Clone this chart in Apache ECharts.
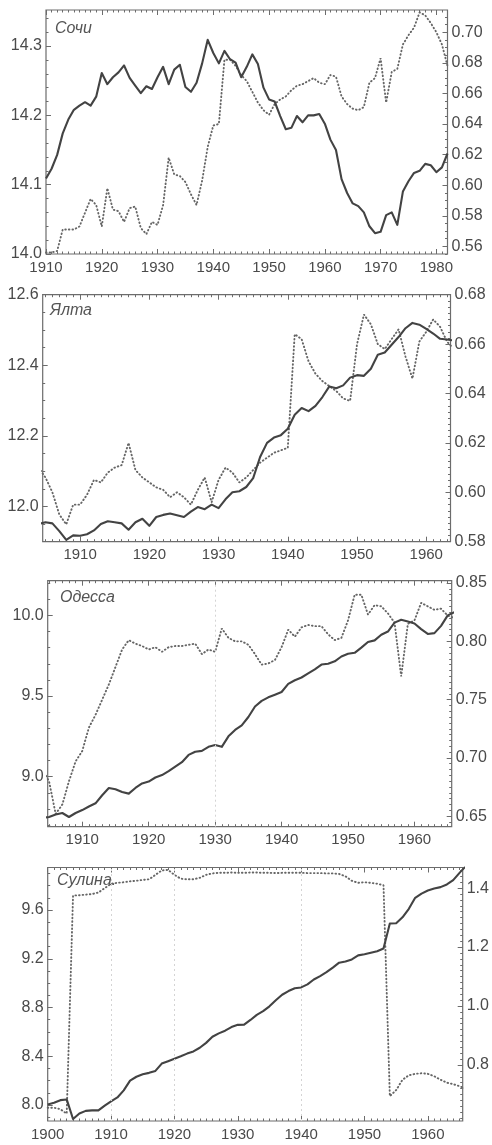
<!DOCTYPE html>
<html>
<head>
<meta charset="utf-8">
<script src="https://cdn.jsdelivr.net/npm/echarts@6/dist/echarts.min.js"></script>
<style>
  html, body { margin: 0; padding: 0; background: #ffffff; }
  #chart { width: 492px; height: 1145px; }
</style>
</head>
<body>
<div id="chart"></div>
<script>
// ---- Сочи, 1910–1982 ----
const sochiStart = 1910;
const sochiMean = [
  14.109, 14.123, 14.143, 14.174, 14.194, 14.208, 14.214, 14.219, 14.214, 14.227,
  14.261, 14.245, 14.255, 14.262, 14.272, 14.254, 14.243, 14.232, 14.242, 14.238,
  14.255, 14.270, 14.245, 14.266, 14.273, 14.241, 14.234, 14.247, 14.275, 14.309,
  14.290, 14.275, 14.293, 14.281, 14.276, 14.255, 14.270, 14.288, 14.274, 14.240,
  14.223, 14.220, 14.199, 14.180, 14.182, 14.199, 14.190, 14.200, 14.200, 14.202,
  14.188, 14.165, 14.150, 14.108, 14.088, 14.073, 14.069, 14.060, 14.040, 14.030,
  14.032, 14.056, 14.060, 14.042, 14.090, 14.105, 14.117, 14.120, 14.130, 14.128,
  14.118, 14.125, 14.145
];
const sochiIndex = [
  0.556, 0.556, 0.557, 0.571, 0.571, 0.571, 0.573, 0.582, 0.591, 0.587,
  0.573, 0.598, 0.584, 0.583, 0.576, 0.585, 0.586, 0.572, 0.568, 0.576,
  0.574, 0.587, 0.618, 0.607, 0.606, 0.602, 0.594, 0.587, 0.603, 0.625,
  0.639, 0.640, 0.682, 0.682, 0.678, 0.672, 0.668, 0.661, 0.654, 0.649,
  0.646, 0.653, 0.656, 0.658, 0.662, 0.665, 0.666, 0.668, 0.670, 0.667,
  0.666, 0.672, 0.671, 0.658, 0.653, 0.650, 0.649, 0.651, 0.667, 0.670,
  0.683, 0.654, 0.674, 0.676, 0.692, 0.698, 0.703, 0.713, 0.711, 0.706,
  0.700, 0.692, 0.678
];
const sochiYearTicks = [1910, 1920, 1930, 1940, 1950, 1960, 1970, 1980];
const sochiMeanTicks = [14.0, 14.1, 14.2, 14.3];
const sochiIndexTicks = [0.56, 0.58, 0.60, 0.62, 0.64, 0.66, 0.68, 0.70];

// ---- Ялта, 1904–1964 ----
const yaltaStart = 1904;
const yaltaMean = [
  11.950, 11.955, 11.952, 11.930, 11.905, 11.918, 11.917, 11.921, 11.932, 11.950,
  11.958, 11.955, 11.952, 11.934, 11.955, 11.965, 11.945, 11.970, 11.976, 11.980,
  11.975, 11.970, 11.985, 11.998, 11.992, 12.005, 11.995, 12.020, 12.040, 12.043,
  12.055, 12.080, 12.140, 12.180, 12.195, 12.202, 12.220, 12.260, 12.279, 12.270,
  12.285, 12.310, 12.340, 12.335, 12.343, 12.365, 12.372, 12.370, 12.390, 12.430,
  12.436, 12.458, 12.480, 12.505, 12.520, 12.515, 12.503, 12.490, 12.475, 12.473,
  12.470
];
const yaltaIndex = [
  0.610, 0.606, 0.600, 0.591, 0.587, 0.595, 0.595, 0.599, 0.605, 0.604,
  0.608, 0.610, 0.611, 0.620, 0.609, 0.606, 0.604, 0.602, 0.601, 0.598,
  0.600, 0.598, 0.595, 0.601, 0.606, 0.596, 0.605, 0.610, 0.608, 0.604,
  0.606, 0.609, 0.612, 0.614, 0.616, 0.617, 0.618, 0.664, 0.662, 0.653,
  0.648, 0.645, 0.643, 0.641, 0.638, 0.637, 0.660, 0.672, 0.668, 0.660,
  0.658, 0.662, 0.666, 0.655, 0.646, 0.661, 0.665, 0.670, 0.667, 0.661,
  0.658
];
const yaltaYearTicks = [1910, 1920, 1930, 1940, 1950, 1960];
const yaltaMeanTicks = [12.0, 12.2, 12.4, 12.6];
const yaltaIndexTicks = [0.58, 0.60, 0.62, 0.64, 0.66, 0.68];

// ---- Одесса, 1904–1966 ----
const odessaStart = 1904;
const odessaMean = [
  8.745, 8.750, 8.765, 8.775, 8.750, 8.775, 8.793, 8.815, 8.835, 8.885,
  8.930, 8.922, 8.905, 8.895, 8.930, 8.958, 8.970, 8.995, 9.010, 9.035,
  9.063, 9.090, 9.135, 9.155, 9.160, 9.185, 9.196, 9.185, 9.250, 9.290,
  9.318, 9.370, 9.435, 9.470, 9.492, 9.508, 9.525, 9.575, 9.598, 9.615,
  9.640, 9.665, 9.695, 9.700, 9.715, 9.745, 9.762, 9.768, 9.800, 9.835,
  9.845, 9.880, 9.900, 9.955, 9.973, 9.962, 9.950, 9.915, 9.885, 9.890,
  9.935, 10.000, 10.020
];
const odessaIndex = [
  0.690, 0.680, 0.652, 0.660, 0.680, 0.697, 0.706, 0.726, 0.737, 0.750,
  0.763, 0.778, 0.793, 0.801, 0.798, 0.796, 0.793, 0.795, 0.791, 0.795,
  0.796, 0.796, 0.797, 0.798, 0.789, 0.793, 0.791, 0.811, 0.803, 0.800,
  0.800, 0.797, 0.789, 0.780, 0.781, 0.784, 0.795, 0.810, 0.804, 0.812,
  0.814, 0.813, 0.813, 0.806, 0.801, 0.803, 0.818, 0.840, 0.840, 0.823,
  0.831, 0.830, 0.824, 0.816, 0.770, 0.815, 0.818, 0.833, 0.830, 0.827,
  0.828, 0.822, 0.820
];
const odessaYearTicks = [1910, 1920, 1930, 1940, 1950, 1960];
const odessaMeanTicks = [9.0, 9.5, 10.0];
const odessaIndexTicks = [0.65, 0.70, 0.75, 0.80, 0.85];

// ---- Сулина, 1900–1966 ----
const sulinaStart = 1900;
const sulinaMean = [
  8.005, 8.018, 8.040, 8.046, 7.885, 7.930, 7.952, 7.956, 7.956, 7.995,
  8.030, 8.062, 8.120, 8.200, 8.232, 8.252, 8.264, 8.280, 8.340, 8.360,
  8.380, 8.400, 8.422, 8.440, 8.470, 8.510, 8.560, 8.588, 8.610, 8.640,
  8.658, 8.660, 8.698, 8.740, 8.770, 8.810, 8.860, 8.905, 8.935, 8.958,
  8.965, 8.990, 9.030, 9.058, 9.090, 9.128, 9.168, 9.177, 9.195, 9.228,
  9.237, 9.250, 9.262, 9.285, 9.490, 9.492, 9.540, 9.610, 9.700, 9.735,
  9.760, 9.776, 9.788, 9.810, 9.845, 9.905, 9.960
];
const sulinaIndex = [
  0.655, 0.655, 0.650, 0.635, 1.375, 1.376, 1.378, 1.380, 1.385, 1.400,
  1.415, 1.418, 1.420, 1.423, 1.425, 1.428, 1.430, 1.445, 1.460, 1.462,
  1.445, 1.432, 1.430, 1.430, 1.435, 1.445, 1.450, 1.452, 1.452, 1.453,
  1.452, 1.452, 1.453, 1.453, 1.452, 1.452, 1.451, 1.452, 1.452, 1.452,
  1.452, 1.451, 1.451, 1.451, 1.450, 1.450, 1.448, 1.440, 1.425, 1.418,
  1.420, 1.418, 1.415, 1.410, 0.694, 0.715, 0.750, 0.765, 0.770, 0.772,
  0.770, 0.762, 0.750, 0.740, 0.735, 0.728, 0.720
];
const sulinaYearTicks = [1900, 1910, 1920, 1930, 1940, 1950, 1960];
const sulinaMeanTicks = [8.0, 8.4, 8.8, 9.2, 9.6];
const sulinaIndexTicks = [0.8, 1.0, 1.2, 1.4];

// ---- layout and styling ----
const FONT = '"Liberation Sans", Arial, sans-serif';
const INK = '#4a4a4a';
const FRAME = '#6c6c6c';

const panels = [
  { title: 'Сочи', start: sochiStart, mean: sochiMean, index: sochiIndex,
    xTicks: sochiYearTicks, lTicks: sochiMeanTicks, rTicks: sochiIndexTicks, lDigits: 1, rDigits: 2,
    box: { left: 46, top: 10, width: 401.5, height: 244 },
    x: [1910, 1982], l: [14.0, 14.352], r: [0.555, 0.7145], lStep: 0.02, rStep: 0.005,
    guides: [], titlePos: [55, 21] },
  { title: 'Ялта', start: yaltaStart, mean: yaltaMean, index: yaltaIndex,
    xTicks: yaltaYearTicks, lTicks: yaltaMeanTicks, rTicks: yaltaIndexTicks, lDigits: 1, rDigits: 2,
    box: { left: 42.7, top: 294.7, width: 407.8, height: 247 },
    x: [1904.6, 1963.5], l: [11.9, 12.6], r: [0.58, 0.68], lStep: 0.05, rStep: 0.0025,
    guides: [], titlePos: [50, 303] },
  { title: 'Одесса', start: odessaStart, mean: odessaMean, index: odessaIndex,
    xTicks: odessaYearTicks, lTicks: odessaMeanTicks, rTicks: odessaIndexTicks, lDigits: 1, rDigits: 2,
    box: { left: 47.7, top: 580.7, width: 404, height: 246 },
    x: [1904.8, 1965.6], l: [8.69, 10.215], r: [0.641, 0.852], lStep: 0.1, rStep: 0.005,
    guides: [1930], titlePos: [60, 590] },
  { title: 'Сулина.', start: sulinaStart, mean: sulinaMean, index: sulinaIndex,
    xTicks: sulinaYearTicks, lTicks: sulinaMeanTicks, rTicks: sulinaIndexTicks, lDigits: 1, rDigits: 1,
    box: { left: 47.7, top: 867.5, width: 415, height: 253.5 },
    x: [1900, 1965.5], l: [7.869, 9.949], r: [0.61, 1.47], lStep: 0.1, rStep: 0.02,
    guides: [1910, 1920, 1940], titlePos: [57, 873] }
];

// evenly spaced minor tick positions inside [lo, hi]
function minorTicks(lo, hi, step) {
  const out = [];
  for (let k = Math.ceil(lo / step - 1e-9); k * step <= hi + 1e-9; k++) {
    out.push(+(k * step).toFixed(6));
  }
  return out;
}

function pairs(start, values) {
  return values.map((v, i) => [start + i, v]);
}

const grid = [], xAxis = [], yAxis = [], series = [], graphic = [];

panels.forEach((p, g) => {
  grid.push(Object.assign({
    show: true, borderColor: FRAME, borderWidth: 1.2,
    backgroundColor: 'transparent', containLabel: false, outerBoundsMode: 'none'
  }, p.box));

  const years = minorTicks(p.x[0], p.x[1], 1);
  const xBase = {
    type: 'value', gridIndex: g, min: p.x[0], max: p.x[1],
    axisLine: { show: false }, splitLine: { show: false }
  };
  // bottom: decade ticks and labels
  const xMain = xAxis.length;
  xAxis.push(Object.assign({}, xBase, {
    position: 'bottom',
    axisTick: { show: true, inside: true, length: 5, customValues: p.xTicks,
                lineStyle: { color: FRAME, width: 1 } },
    axisLabel: { show: true, customValues: p.xTicks, margin: 6, color: INK,
                 fontFamily: FONT, fontSize: 15, formatter: v => String(Math.round(v)) }
  }));
  // bottom: yearly ticks
  xAxis.push(Object.assign({}, xBase, {
    position: 'bottom',
    axisTick: { show: true, inside: true, length: 2.5, customValues: years,
                lineStyle: { color: FRAME, width: 1 } },
    axisLabel: { show: false }
  }));
  // top: decade and yearly ticks
  xAxis.push(Object.assign({}, xBase, {
    position: 'top',
    axisTick: { show: true, inside: true, length: 5, customValues: p.xTicks,
                lineStyle: { color: FRAME, width: 1 } },
    axisLabel: { show: false }
  }));
  xAxis.push(Object.assign({}, xBase, {
    position: 'top',
    axisTick: { show: true, inside: true, length: 2.5, customValues: years,
                lineStyle: { color: FRAME, width: 1 } },
    axisLabel: { show: false }
  }));

  const yBase = { type: 'value', gridIndex: g, axisLine: { show: false }, splitLine: { show: false } };
  const yLeft = yAxis.length;
  yAxis.push(Object.assign({}, yBase, {
    position: 'left', min: p.l[0], max: p.l[1],
    axisTick: { show: true, inside: true, length: 5, customValues: p.lTicks,
                lineStyle: { color: FRAME, width: 1 } },
    axisLabel: { show: true, customValues: p.lTicks, margin: 4, color: INK,
                 fontFamily: FONT, fontSize: 16, formatter: v => v.toFixed(p.lDigits) }
  }));
  yAxis.push(Object.assign({}, yBase, {
    position: 'left', min: p.l[0], max: p.l[1],
    axisTick: { show: true, inside: true, length: 2.5, customValues: minorTicks(p.l[0], p.l[1], p.lStep),
                lineStyle: { color: FRAME, width: 1 } },
    axisLabel: { show: false }
  }));
  const yRight = yAxis.length;
  yAxis.push(Object.assign({}, yBase, {
    position: 'right', min: p.r[0], max: p.r[1],
    axisTick: { show: true, inside: true, length: 5, customValues: p.rTicks,
                lineStyle: { color: FRAME, width: 1 } },
    axisLabel: { show: true, customValues: p.rTicks, margin: 4, color: INK,
                 fontFamily: FONT, fontSize: 16, formatter: v => v.toFixed(p.rDigits) }
  }));
  yAxis.push(Object.assign({}, yBase, {
    position: 'right', min: p.r[0], max: p.r[1],
    axisTick: { show: true, inside: true, length: 2.5, customValues: minorTicks(p.r[0], p.r[1], p.rStep),
                lineStyle: { color: FRAME, width: 1 } },
    axisLabel: { show: false }
  }));

  series.push({
    type: 'line', name: p.title + ' mean', xAxisIndex: xMain, yAxisIndex: yLeft,
    data: pairs(p.start, p.mean), symbol: 'none', clip: true, silent: true, z: 3,
    lineStyle: { color: '#434343', width: 2.1, join: 'round' },
    markLine: p.guides.length ? {
      silent: true, symbol: 'none', label: { show: false },
      lineStyle: { color: '#d4d4d4', type: [2, 3], width: 1 },
      data: p.guides.map(x => ({ xAxis: x }))
    } : undefined
  });
  series.push({
    type: 'line', name: p.title + ' index', xAxisIndex: xMain, yAxisIndex: yRight,
    data: pairs(p.start, p.index), symbol: 'none', clip: true, silent: true, z: 2,
    lineStyle: { color: '#666666', width: 1.9, type: [0.6, 3], cap: 'round' }
  });

  graphic.push({
    type: 'text', left: p.titlePos[0], top: p.titlePos[1], silent: true,
    style: { text: p.title, fill: '#555555', font: 'italic 16px ' + FONT }
  });
});

const chart = echarts.init(document.getElementById('chart'), null, { renderer: 'canvas' });
chart.setOption({
  animation: false,
  backgroundColor: '#ffffff',
  grid, xAxis, yAxis, series, graphic
});
</script>
</body>
</html>
